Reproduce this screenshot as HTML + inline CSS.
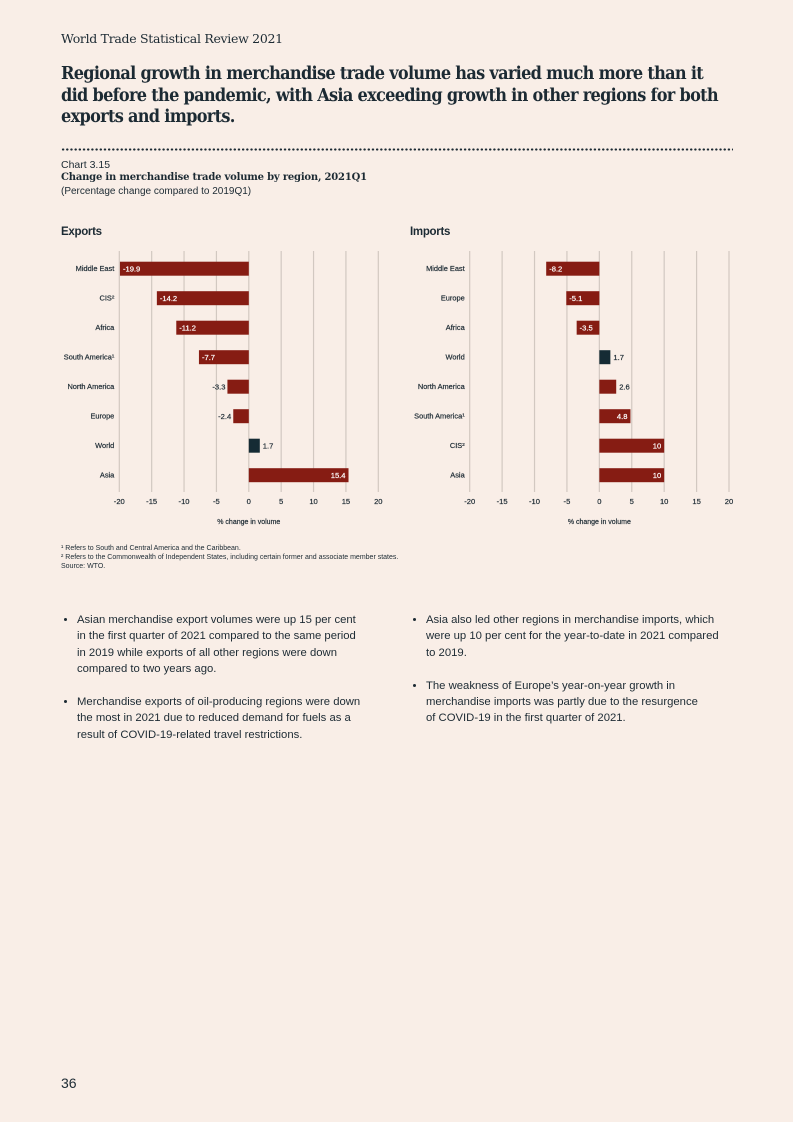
<!DOCTYPE html>
<html><head><meta charset="utf-8"><style>
body{margin:0;background:#f9eee7;}
#page{position:relative;width:793px;height:1122px;background:#f9eee7;color:#1c2a33;font-family:"Liberation Sans",sans-serif;overflow:hidden}
.abs{position:absolute}
#hdr{left:61px;top:31px;font-family:"DejaVu Serif",serif;font-size:12.5px;letter-spacing:-0.3px}
#title{left:61px;top:64px;width:720px;font-family:"DejaVu Serif",serif;font-weight:bold;font-size:17.3px;line-height:21.5px;letter-spacing:-0.75px;white-space:nowrap;transform:scaleX(0.934);transform-origin:0 0}
#dots{left:61px;top:148px;width:672px;height:3px;background-image:radial-gradient(circle,#1c2a33 1px,transparent 1.3px);background-size:4.2px 3px}
.ct{left:61px;font-size:10.5px}
.bul{font-size:11.3px;line-height:16.3px;width:300px}
.bul li{margin-bottom:17px}
ul{margin:0;padding-left:16px}
.fn{left:61px;font-size:7px;line-height:9px}
svg text{font-family:"Liberation Sans",sans-serif}
</style></head><body>
<div id="page">
<div class="abs" id="hdr">World Trade Statistical Review 2021</div>
<div class="abs" id="title">Regional growth in merchandise trade volume has varied much more than it<br>did before the pandemic, with Asia exceeding growth in other regions for both<br>exports and imports.</div>
<div class="abs" id="dots"></div>
<div class="abs ct" style="top:159px">Chart 3.15</div>
<div class="abs ct" style="top:172px;font-weight:bold;font-family:'DejaVu Serif',serif;font-size:10px;letter-spacing:-0.2px">Change in merchandise trade volume by region, 2021Q1</div>
<div class="abs ct" style="top:186px;font-size:10px">(Percentage change compared to 2019Q1)</div>
<svg class="abs" style="left:0;top:0" width="793" height="560" id="charts"></svg>
<div class="abs fn" style="top:544px">¹ Refers to South and Central America and the Caribbean.<br>² Refers to the Commonwealth of Independent States, including certain former and associate member states.<br>Source: WTO.</div>
<div class="abs bul" style="left:61px;top:612px"><ul>
<li>Asian merchandise export volumes were up 15 per cent in the first quarter of 2021 compared to the same period in 2019 while exports of all other regions were down compared to two years ago.</li>
<li>Merchandise exports of oil-producing regions were down the most in 2021 due to reduced demand for fuels as a result of COVID-19-related travel restrictions.</li></ul></div>
<div class="abs bul" style="left:410px;top:612px;width:340px;white-space:nowrap"><ul>
<li>Asia also led other regions in merchandise imports, which<br>were up 10 per cent for the year-to-date in 2021 compared<br>to 2019.</li>
<li>The weakness of Europe’s year-on-year growth in<br>merchandise imports was partly due to the resurgence<br>of COVID-19 in the first quarter of 2021.</li></ul></div>
<div class="abs" style="left:61px;top:1075px;font-size:14px">36</div>
</div>
<script>
const exportCats=["Middle East","CIS²","Africa","South America¹","North America","Europe","World","Asia"];
const exportVals=[-19.9,-14.2,-11.2,-7.7,-3.3,-2.4,1.7,15.4];
const importCats=["Middle East","Europe","Africa","World","North America","South America¹","CIS²","Asia"];
const importVals=[-8.2,-5.1,-3.5,1.7,2.6,4.8,10,10];
const importLabels=["-8.2","-5.1","-3.5","1.7","2.6","4.8","10","10"];
const exportLabels=["-19.9","-14.2","-11.2","-7.7","-3.3","-2.4","1.7","15.4"];
const ticks=[-20,-15,-10,-5,0,5,10,15,20];
const NS="http://www.w3.org/2000/svg";
const svg=document.getElementById('charts');
function mk(t,a,p){const e=document.createElementNS(NS,t);for(const k in a)e.setAttribute(k,a[k]);(p||svg).appendChild(e);return e;}
function chart(name,title,x0,x1,cats,vals,labels,px){
 const g=mk('g',{});
 
 
 const xs=v=>x0+(v+20)/40*(x1-x0);
 const ys=i=>268.7+i*29.5;
 const tt=mk('text',{x:px,y:235,'font-size':11.5,'font-weight':'bold','font-family':'DejaVu Serif','letter-spacing':-0.3,fill:'#1c2a33'},g);tt.textContent=title;
 
 
 ticks.forEach(t=>{
  const l=mk('line',{x1:xs(t),x2:xs(t),y1:251,y2:492,stroke:'#d2c8c1','stroke-width':1.2},g);
  
  
  const tx=mk('text',{x:xs(t),y:504,'font-size':7.6,'text-anchor':'middle',fill:'#1c2a33',stroke:'#1c2a33','stroke-width':0.2},g);tx.textContent=t;
  
  
 });
 const at=mk('text',{x:xs(0),y:524,'font-size':7,'text-anchor':'middle',fill:'#1c2a33',stroke:'#1c2a33','stroke-width':0.2},g);at.textContent='% change in volume';
 
 
 cats.forEach((c,i)=>{
  const v=vals[i],y=ys(i);
  const cl=mk('text',{x:x0-5,y:y+2.5,'font-size':7.4,'text-anchor':'end',fill:'#1c2a33',stroke:'#1c2a33','stroke-width':0.2},g);cl.textContent=c;
  
  
  const a=Math.min(xs(0),xs(v)),w=Math.abs(xs(v)-xs(0));
  const r=mk('rect',{x:a,y:y-7,width:w,height:14,fill:c==='World'?'#152b34':'#861c13'},g);
  
  
  let lx,anc,col;
  if(w>22){col='#fff';if(v<0){lx=xs(v)+3;anc='start'}else{lx=xs(v)-3;anc='end'}}
  else{col='#1c2a33';if(v<0){lx=xs(v)-2;anc='end'}else{lx=xs(v)+3;anc='start'}}
  const vl=mk('text',{x:lx,y:y+2.7,'font-size':7.6,'text-anchor':anc,fill:col,stroke:col,'stroke-width':0.2},g);vl.textContent=labels[i];
  
  
 });
}
chart('exports-chart','Exports',119.3,378.3,exportCats,exportVals,exportLabels,61);
chart('imports-chart','Imports',469.7,729,importCats,importVals,importLabels,410);
</script>
</body></html>
